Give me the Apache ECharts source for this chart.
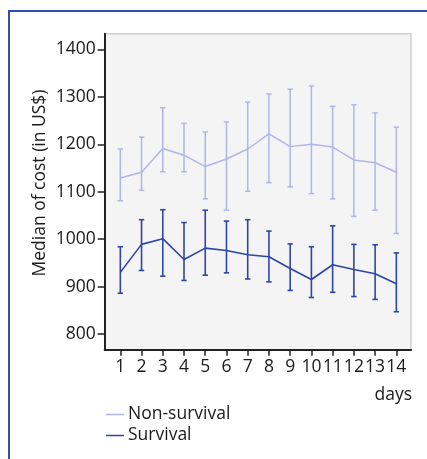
<!DOCTYPE html>
<html>
<head>
<meta charset="utf-8">
<script src="https://cdn.jsdelivr.net/npm/echarts@6/dist/echarts.min.js"></script>
<style>html,body{margin:0;padding:0;background:#fff;}#c{width:427px;height:459px;}</style>
</head>
<body>
<div id="c"></div>
<script>
var days = [1,2,3,4,5,6,7,8,9,10,11,12,13,14];
var dayLabels = ['1','2','3','4','5','6','7','8','9','10','11','12','13','14'];
var yTicks = [800,900,1000,1100,1200,1300,1400];

var nonSurvMean = [1129,1141,1191,1177,1153,1169,1190,1222,1195,1200,1194,1167,1161,1141];
var nonSurvLow  = [1081,1103,1142,1142,1085,1061,1101,1119,1110,1096,1085,1048,1061,1012];
var nonSurvHigh = [1190,1215,1277,1244,1226,1247,1289,1306,1316,1323,1280,1283,1266,1236];

var survMean = [930,989,1001,957,981,976,967,963,938,915,946,936,927,906];
var survLow  = [886,934,922,913,924,929,916,910,892,877,888,879,873,847];
var survHigh = [984,1041,1062,1035,1061,1038,1041,1017,990,984,1028,989,988,971];

var FONT = 'Open Sans';
var TXT = '#1a1a1a';
var cNon = '#afb5ec';
var cSurv = '#2c46a8';

function pairs(xs, ys){ return xs.map(function(x,i){ return [x, ys[i]]; }); }
function triples(xs, lo, hi){ return xs.map(function(x,i){ return [x, lo[i], hi[i]]; }); }

function errRender(color, lw){
  return function(params, api){
    var x = api.value(0);
    var p1 = api.coord([x, api.value(1)]);
    var p2 = api.coord([x, api.value(2)]);
    var hw = 2.7;
    var st = {stroke: color, lineWidth: lw};
    return {type:'group', children:[
      {type:'line', shape:{x1:p1[0],y1:p1[1],x2:p2[0],y2:p2[1]}, style:st},
      {type:'line', shape:{x1:p1[0]-hw,y1:p1[1],x2:p1[0]+hw,y2:p1[1]}, style:st},
      {type:'line', shape:{x1:p2[0]-hw,y1:p2[1],x2:p2[0]+hw,y2:p2[1]}, style:st}
    ]};
  };
}

var chart = echarts.init(document.getElementById('c'));
chart.setOption({
  animation: false,
  backgroundColor: '#fff',
  grid: {left: 104.7, right: 16, top: 33.7, bottom: 109.3, show: true,
         backgroundColor: '#f4f4f4', borderColor: '#cfcfcf', borderWidth: 1.5},
  xAxis: {
    type: 'value', min: 0.265, max: 14.69,
    axisLine: {show: true, onZero: false, lineStyle: {color: '#222', width: 2}},
    axisTick: {show: true, customValues: days, length: 6, lineStyle: {color: '#222', width: 1.5}},
    axisLabel: {customValues: days, formatter: function(v){ return dayLabels[days.indexOf(v)]; },
                color: TXT, fontFamily: FONT, fontSize: 17.5, margin: 8},
    splitLine: {show: false}
  },
  yAxis: {
    type: 'value', min: 767, max: 1433,
    axisLine: {show: true, lineStyle: {color: '#222', width: 2}},
    axisTick: {show: true, customValues: yTicks, length: 7, lineStyle: {color: '#222', width: 1.5}},
    axisLabel: {customValues: yTicks, formatter: function(v){ return String(v); },
                color: TXT, fontFamily: FONT, fontSize: 17.5, margin: 9},
    splitLine: {show: false}
  },
  legend: {
    orient: 'vertical', left: 101, top: 399, itemGap: 0, itemWidth: 18,
    data: [
      {name: 'Non-survival', icon: 'rect', itemStyle: {color: cNon}},
      {name: 'Survival', icon: 'rect', itemStyle: {color: cSurv}}
    ],
    itemHeight: 1.5,
    textStyle: {color: TXT, fontFamily: FONT, fontSize: 17.5, lineHeight: 21, padding: [0,0,0,-1]}
  },
  graphic: [
    {type: 'polyline', shape: {points: [[9, 459], [9, 11], [427, 11]]},
     style: {stroke: '#2f4ea8', lineWidth: 2, fill: null}},
    {type: 'text', x: 40, y: 183, rotation: Math.PI/2,
     style: {text: 'Median of cost (in US$)', font: '17.5px "Open Sans"', fill: TXT,
             align: 'center', verticalAlign: 'middle'}},
    {type: 'text', x: 412, y: 395,
     style: {text: 'days', font: '17.5px "Open Sans"', fill: TXT,
             align: 'right', verticalAlign: 'middle'}}
  ],
  series: [
    {name: 'Non-survival', type: 'line', data: pairs(days, nonSurvMean), symbol: 'none',
     lineStyle: {color: cNon, width: 1.5}, itemStyle: {color: cNon}},
    {name: 'Survival', type: 'line', data: pairs(days, survMean), symbol: 'none',
     lineStyle: {color: cSurv, width: 1.6}, itemStyle: {color: cSurv}},
    {name: 'nsErr', type: 'custom', data: triples(days, nonSurvLow, nonSurvHigh),
     renderItem: errRender(cNon, 1.5), encode: {x: 0, y: [1, 2]}},
    {name: 'sErr', type: 'custom', data: triples(days, survLow, survHigh),
     renderItem: errRender(cSurv, 1.6), encode: {x: 0, y: [1, 2]}}
  ]
});
</script>
</body>
</html>
